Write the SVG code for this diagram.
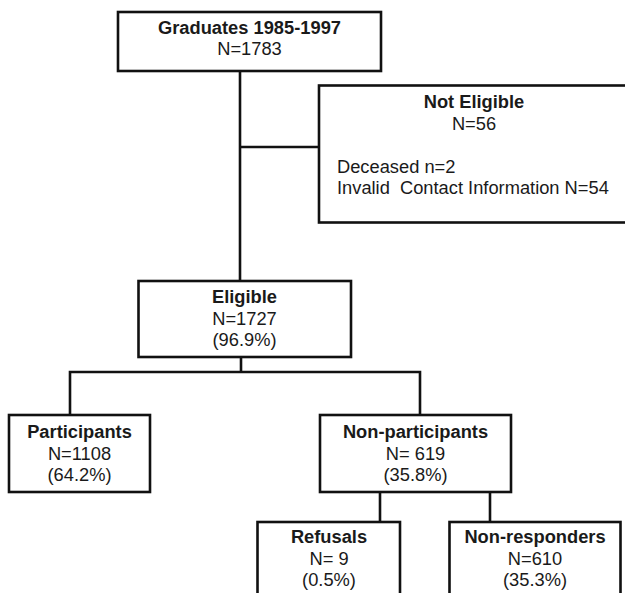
<svg xmlns="http://www.w3.org/2000/svg" width="625" height="593" viewBox="0 0 625 593">
<style>
.box{fill:#fff;stroke:#111;stroke-width:2.6}
.ln{fill:none;stroke:#111;stroke-width:2.6}
text{font-family:"Liberation Sans",Arial,sans-serif;font-size:18.3px;fill:#1a1a1a;text-anchor:middle}
.b{font-weight:bold}
.l{text-anchor:start;white-space:pre}
</style>
<rect width="625" height="593" fill="#fff"/>
<g id="connectors">
<line class="ln" x1="240" y1="71" x2="240" y2="281"/>
<line class="ln" x1="240" y1="147" x2="319" y2="147"/>
<line class="ln" x1="241" y1="357" x2="241" y2="372"/>
<polyline class="ln" points="70,415 70,372 420,372 420,415"/>
<line class="ln" x1="380" y1="492" x2="380" y2="522"/>
<line class="ln" x1="490" y1="492" x2="490" y2="522"/>
</g>
<g id="graduates">
<rect class="box" x="118" y="12" width="263" height="59"/>
<text class="b" x="249.5" y="34">Graduates 1985-1997</text>
<text x="249.5" y="55">N=1783</text>
</g>
<g id="not-eligible">
<rect class="box" x="319" y="85.5" width="310" height="137"/>
<text class="b" x="474" y="108">Not Eligible</text>
<text x="474" y="130">N=56</text>
<text class="l" x="337" y="173">Deceased n=2</text>
<text class="l" x="337" y="194" xml:space="preserve">Invalid  Contact Information N=54</text>
</g>
<g id="eligible">
<rect class="box" x="138.5" y="281" width="212.5" height="76"/>
<text class="b" x="244.5" y="303">Eligible</text>
<text x="244.5" y="324.5">N=1727</text>
<text x="244.5" y="346">(96.9%)</text>
</g>
<g id="participants">
<rect class="box" x="9" y="415" width="141" height="77"/>
<text class="b" x="79.5" y="438">Participants</text>
<text x="79.5" y="460">N=1108</text>
<text x="79.5" y="481">(64.2%)</text>
</g>
<g id="non-participants">
<rect class="box" x="320" y="415" width="191" height="77"/>
<text class="b" x="415.5" y="438">Non-participants</text>
<text x="415.5" y="460">N= 619</text>
<text x="415.5" y="481">(35.8%)</text>
</g>
<g id="refusals">
<rect class="box" x="257.5" y="522" width="142.5" height="80"/>
<text class="b" x="329" y="543">Refusals</text>
<text x="329" y="564.5">N= 9</text>
<text x="329" y="586">(0.5%)</text>
</g>
<g id="non-responders">
<rect class="box" x="449.5" y="522" width="171" height="80"/>
<text class="b" x="535" y="543">Non-responders</text>
<text x="535" y="564.5">N=610</text>
<text x="535" y="586">(35.3%)</text>
</g>
</svg>
